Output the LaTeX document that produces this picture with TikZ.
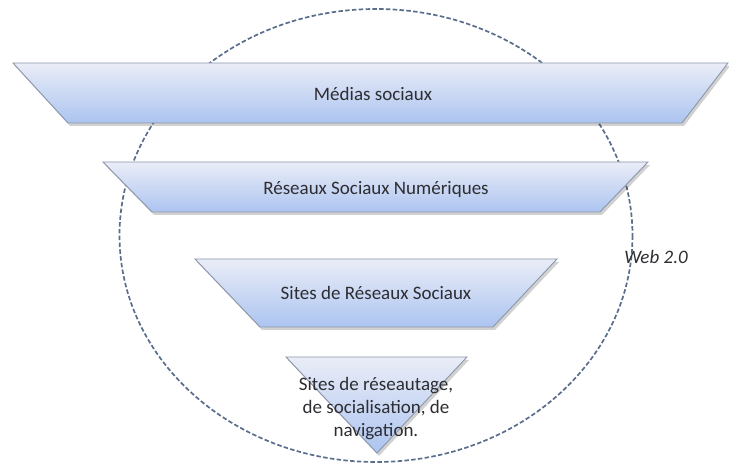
\documentclass[tikz,border=0pt]{standalone}
\usepackage{fontspec}
\setmainfont{Carlito}
\usetikzlibrary{shapes.geometric}
\definecolor{edgecol}{RGB}{140,150,170}
\definecolor{topfill}{RGB}{234,237,247}
\definecolor{botfill}{RGB}{172,196,240}
\definecolor{dashcol}{RGB}{90,110,140}
\definecolor{txtcol}{RGB}{45,45,50}
\tikzset{
  band/.style={draw=edgecol, line width=0.9pt, line join=miter, top color=topfill, bottom color=botfill},
  bandshadow/.style={fill=black, opacity=0.18},
  label/.style={text=txtcol, font=\fontsize{19}{23}\selectfont, align=center, inner sep=0pt},
  web/.style={draw=dashcol, line width=1.7pt, dash pattern=on 4.5pt off 2.3pt}
}
\begin{document}
\begin{tikzpicture}[x=1pt,y=-1pt]
\useasboundingbox (0,0) rectangle (729,465);
% dashed circle (behind)
\draw[web] (376,235.5) ellipse [x radius=256.5, y radius=226.5];
% band 1
\fill[bandshadow] (15,66) -- (730,66) -- (684,126) -- (70,126) -- cycle;
\draw[band] (13,63) -- (728,63) -- (682,123) -- (68,123) -- cycle;
% band 2
\fill[bandshadow] (105,165) -- (650,165) -- (602,215) -- (154,215) -- cycle;
\draw[band] (103,162) -- (648,162) -- (600,212) -- (152,212) -- cycle;
% band 3
\fill[bandshadow] (197,262) -- (559,262) -- (495,330) -- (262,330) -- cycle;
\draw[band] (195,259) -- (557,259) -- (493,327) -- (260,327) -- cycle;
% triangle
\fill[bandshadow] (288,360) -- (469,360) -- (379,456) -- cycle;
\draw[band] (286,357) -- (467,357) -- (377,453) -- cycle;
% labels
\node[label] (media) at (373,94) {Médias sociaux};
\node[label] (rsn) at (376,189) {Réseaux Sociaux Numériques};
\node[label] (srs) at (376,293) {Sites de Réseaux Sociaux};
\node[label] (sites) at (376,409) {Sites de réseautage,\\de socialisation, de\\navigation.};
\node[label, font=\fontsize{19}{23}\selectfont\itshape] (web20) at (656,257) {Web 2.0};
\end{tikzpicture}
\end{document}
